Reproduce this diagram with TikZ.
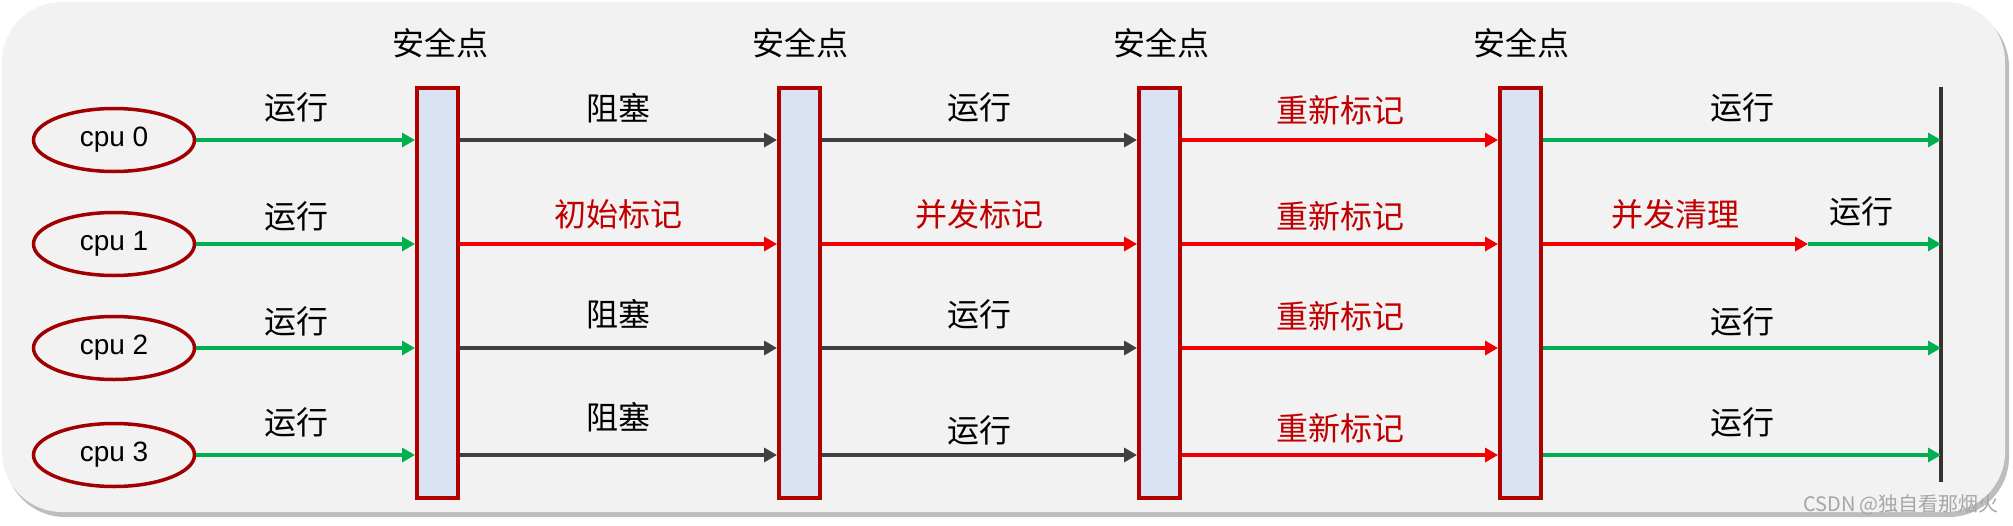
\documentclass[tikz,border=0pt]{standalone}
\usepackage{fontspec}
\setmainfont{Liberation Sans}
\newfontfamily\cjk{Noto Sans CJK SC}
\usetikzlibrary{arrows.meta,shapes.geometric}
\definecolor{bgc}{HTML}{F2F2F2}
\definecolor{shc}{HTML}{BDBDBD}
\definecolor{grn}{HTML}{00B050}
\definecolor{gry}{HTML}{404040}
\definecolor{rda}{HTML}{F00000}
\definecolor{rdt}{HTML}{C00000}
\definecolor{barb}{HTML}{B00000}
\definecolor{barf}{HTML}{DAE3F3}
\definecolor{ellb}{HTML}{A00000}
\definecolor{endc}{HTML}{333333}
\definecolor{wmc}{HTML}{A6A6A6}
\begin{document}
\begin{tikzpicture}[x=1pt,y=-1pt,
  cpu/.style={ellipse, draw=ellb, line width=3.5pt, minimum width=161pt, minimum height=63pt, inner sep=0pt, font=\fontsize{28}{30}\selectfont},
  sp/.style={rectangle, draw=barb, fill=barf, line width=4pt, minimum width=41pt, minimum height=410pt, inner sep=0pt},
  arr/.style={line width=4pt, -{Triangle[length=13pt,width=14pt]}},
  ga/.style={arr, color=grn},
  ka/.style={arr, color=gry},
  ra/.style={arr, color=rda},
  lab/.style={font=\cjk\fontsize{32}{36}\selectfont, anchor=base, inner sep=0pt, yshift=#1, text=black},
  lab/.default=19pt,
  rlab/.style={lab=#1, text=rdt},
  rlab/.default=19pt,
  title/.style={font=\cjk\fontsize{32}{36}\selectfont, inner sep=0pt},
  endline/.style={line width=4pt, color=endc},
  wm/.style={font=\cjk\fontsize{20}{22}\selectfont, text=wmc, inner sep=0pt}
]
\useasboundingbox (0,0) rectangle (2013,525);
\fill[white] (0,0) rectangle (2013,525);
\fill[shc, rounded corners=60pt] (5,7) rectangle (2009,517);
\fill[bgc, rounded corners=60pt] (2,2) rectangle (2005,512);

% cpus
\node[cpu] (c0) at (114,140) {cpu 0};
\node[cpu] (c1) at (114,244) {cpu 1};
\node[cpu] (c2) at (114,348) {cpu 2};
\node[cpu] (c3) at (114,455) {cpu 3};

% safepoints
\node[sp] (b1) at (437.5,293) {};
\node[sp] (b2) at (799.5,293) {};
\node[sp] (b3) at (1159.5,293) {};
\node[sp] (b4) at (1520.5,293) {};
\node[title] (t1) at (440,43) {安全点};
\node[title] (t2) at (800,43) {安全点};
\node[title] (t3) at (1161,43) {安全点};
\node[title] (t4) at (1521,43) {安全点};

% end line
\coordinate (et) at (1941,87);
\coordinate (eb) at (1941,482);
\draw[endline] (et) -- (eb);
\coordinate (m1) at (1808,244);

% column 0
\draw[ga] (c0.east) -- node[lab=21pt, pos=0.46] {运行} (c0.east -| b1.west);
\draw[ga] (c1.east) -- node[lab=16pt, pos=0.46] {运行} (c1.east -| b1.west);
\draw[ga] (c2.east) -- node[lab=15pt, pos=0.46] {运行} (c2.east -| b1.west);
\draw[ga] (c3.east) -- node[lab=21pt, pos=0.46] {运行} (c3.east -| b1.west);

% column 1
\draw[ka] (c0 -| b1.east) -- node[lab=20pt] {阻塞} (c0 -| b2.west);
\draw[ra] (c1 -| b1.east) -- node[rlab=18pt] {初始标记} (c1 -| b2.west);
\draw[ka] (c2 -| b1.east) -- node[lab=22pt] {阻塞} (c2 -| b2.west);
\draw[ka] (c3 -| b1.east) -- node[lab=26pt] {阻塞} (c3 -| b2.west);

% column 2
\draw[ka] (c0 -| b2.east) -- node[lab=21pt] {运行} (c0 -| b3.west);
\draw[ra] (c1 -| b2.east) -- node[rlab=18pt] {并发标记} (c1 -| b3.west);
\draw[ka] (c2 -| b2.east) -- node[lab=22pt] {运行} (c2 -| b3.west);
\draw[ka] (c3 -| b2.east) -- node[lab=13pt] {运行} (c3 -| b3.west);

% column 3
\draw[ra] (c0 -| b3.east) -- node[rlab=18pt] {重新标记} (c0 -| b4.west);
\draw[ra] (c1 -| b3.east) -- node[rlab=16pt] {重新标记} (c1 -| b4.west);
\draw[ra] (c2 -| b3.east) -- node[rlab=20pt] {重新标记} (c2 -| b4.west);
\draw[ra] (c3 -| b3.east) -- node[rlab=15pt] {重新标记} (c3 -| b4.west);

% column 4
\draw[ga] (c0 -| b4.east) -- node[lab=21pt] {运行} (c0 -| et);
\draw[ra] (c1 -| b4.east) -- node[rlab=18pt] {并发清理} (m1);
\draw[ga] (m1) -- node[lab=21pt, pos=0.4] {运行} (c1 -| et);
\draw[ga] (c2 -| b4.east) -- node[lab=15pt] {运行} (c2 -| et);
\draw[ga] (c3 -| b4.east) -- node[lab=21pt] {运行} (c3 -| et);

% watermark
\node[wm] (w) at (1901,505) {CSDN @独自看那烟火};
\end{tikzpicture}
\end{document}
